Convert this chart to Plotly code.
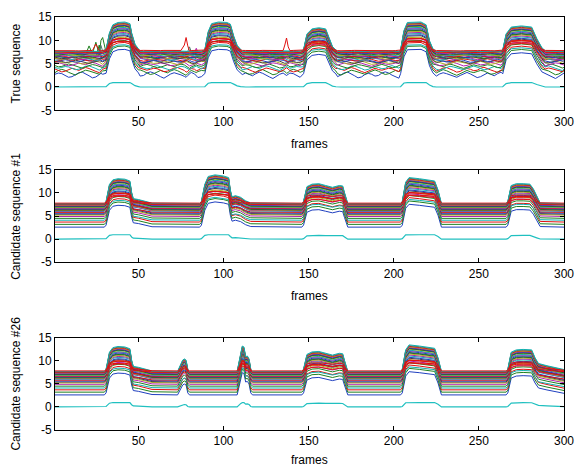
import plotly.graph_objects as go

# ---------------- data ----------------
# per-line baseline and event levels (lowest line first)
base_levels = [2.6, 3.2, 3.7, 4.1, 4.5, 4.9, 5.2, 5.4, 5.6, 5.8, 6.0, 6.1, 6.2, 6.3, 6.4,
               6.5, 6.6, 6.7, 6.8, 6.9, 7.0, 7.1, 7.2, 7.3, 7.4, 7.45, 7.5, 7.6, 7.7, 7.8]
peak_levels = [6.9, 7.6, 8.3, 8.0, 8.8, 9.2, 9.5, 9.8, 10.0, 9.0, 10.3, 10.5, 10.7, 10.9, 11.0,
               11.2, 9.6, 11.4, 11.5, 11.7, 11.8, 11.9, 12.0, 12.1, 12.2, 12.3, 9.3, 12.45, 12.6, 9.8]
line_colors = ["#1f3fbf", "#208020", "#e01010", "#10b0b0", "#208020", "#b020b0", "#b0b020",
               "#404040", "#1f3fbf", "#e01010", "#10b0b0", "#b020b0", "#b0b020", "#404040",
               "#208020", "#1f3fbf", "#e01010", "#b020b0", "#10b0b0", "#b0b020", "#208020",
               "#404040", "#1f3fbf", "#b020b0", "#b0b020", "#e01010", "#e01010", "#4a7a6a",
               "#10b0b0", "#e01010"]
zero_base = 0.0
zero_peak = 0.95
zero_color = "#20c0c0"

# panel 1: true sequence -- event key frames / fractions; other frames are noisy baseline
true_event_frames = [31, 33, 35, 38, 42, 45, 46, 48, 50,
                     89, 91, 93, 97, 102, 104, 106, 108, 110,
                     147, 149, 152, 156, 160, 162, 164, 166,
                     204, 206, 208, 216, 219, 221, 223,
                     264, 266, 269, 275, 281, 284, 287]
true_event_frac = [0.08, 0.8, 1.15, 1.25, 1.27, 1.2, 0.8, 0.3, 0.1,
                   0.06, 0.85, 1.2, 1.27, 1.25, 1.18, 0.65, 0.25, 0.08,
                   0.06, 0.75, 0.97, 1.02, 0.97, 0.6, 0.2, 0.05,
                   0.06, 0.9, 1.25, 1.27, 1.15, 0.45, 0.1,
                   0.05, 0.75, 1.05, 1.1, 1.05, 0.55, 0.15]
true_event_spans = [(31, 50), (89, 110), (147, 166), (204, 223), (264, 287)]
true_jitter = [0.1, 0.3, 0.2, -0.1, -0.4, -0.3, 0.0, 0.35, 0.45, 0.2, -0.15, -0.5, -0.35,
               0.05, 0.25, 0.1, -0.2, -0.1, 0.3, 0.5, 0.3, -0.05, -0.3, -0.55, -0.2, 0.15,
               0.35, 0.2, 0.0, -0.25, -0.4, -0.1, 0.2, 0.4, 0.15, -0.2, -0.45, -0.3, 0.05,
               0.3, 0.1, -0.15, 0.2, 0.45, 0.25, -0.1, -0.35, -0.6, -0.25, 0.1, 0.3, 0.05, -0.1]
# spikes in the true sequence: (line index, frame, value)
true_spikes = [(29, 77, 9.0), (29, 78, 10.6), (29, 79, 8.8), (29, 136, 9.0), (29, 137, 10.5),
               (29, 138, 8.6), (29, 25, 9.2), (20, 21, 8.8), (20, 25, 9.6), (20, 28, 10.0),
               (20, 29, 10.6), (14, 27, 9.0), (27, 80, 8.6), (23, 84, 8.3), (27, 28, 8.9)]

# panel 2: candidate sequence #1
cand1_frames = [1, 30, 31, 33, 35, 38, 42, 45, 46, 47, 50, 54, 58,
                86, 87, 89, 91, 95, 100, 103, 104, 105, 107, 110, 113, 116,
                146, 147, 149, 152, 156, 160, 164, 168, 170, 171, 172, 173,
                204, 205, 207, 209, 215, 220, 224, 226, 227, 228,
                266, 267, 269, 272, 276, 280, 282, 284, 286, 300]
cand1_frac = [0, 0, 0.1, 0.85, 1.05, 1.1, 1.08, 1.0, 0.5, 0.22, 0.18, 0.1, 0.02,
              0, 0.1, 0.85, 1.2, 1.27, 1.22, 1.15, 0.6, 0.3, 0.35, 0.28, 0.12, 0.03,
              0, 0.1, 0.75, 0.86, 0.88, 0.8, 0.72, 0.8, 0.78, 0.5, 0.2, 0,
              0, 0.1, 0.95, 1.15, 1.1, 1.05, 1.0, 0.6, 0.3, 0,
              0, 0.1, 0.8, 0.88, 0.88, 0.86, 0.65, 0.3, 0.03, 0]

# panel 3: candidate sequence #26
cand26_frames = [1, 30, 31, 33, 35, 38, 42, 45, 46, 47, 50, 54, 58,
                 73, 75, 76, 77, 78, 79, 80,
                 108, 110, 111, 112, 113, 114, 115, 116, 117,
                 146, 147, 149, 152, 156, 160, 164, 168, 170, 171, 172, 173,
                 204, 205, 207, 209, 215, 220, 224, 226, 227, 228,
                 266, 267, 269, 272, 276, 281, 283, 285, 290, 295, 300]
cand26_frac = [0, 0, 0.1, 0.85, 1.05, 1.1, 1.08, 1.0, 0.5, 0.22, 0.18, 0.1, 0.02,
               0, 0.3, 0.5, 0.55, 0.5, 0.1, 0,
               0, 0.75, 1.12, 1.08, 0.65, 0.68, 0.55, 0.1, 0,
               0, 0.1, 0.75, 0.86, 0.88, 0.8, 0.72, 0.8, 0.78, 0.5, 0.2, 0,
               0, 0.1, 0.95, 1.17, 1.12, 1.07, 1.02, 0.6, 0.3, 0,
               0, 0.1, 0.85, 0.95, 0.97, 0.95, 0.6, 0.35, 0.25, 0.15, 0.08]

x_ticks = [50, 100, 150, 200, 250, 300]
y_ticks = [-5, 0, 5, 10, 15]
y_ticktext = ["-5", "0", "5", "10", "15"]
panel_titles = ["True sequence", "Candidate sequence #1", "Candidate sequence #26"]
x_title = "frames"

# ---------------- build panel-1 frame list (baseline sampled every 2 frames) ----------------
def in_span(f):
    return any(a <= f <= b for a, b in true_event_spans)

true_frames = sorted(set([f for f in range(1, 301, 2) if not in_span(f)] + [300])
                     | set(true_event_frames) | set(s[1] for s in true_spikes))
true_frac = [true_event_frac[true_event_frames.index(f)] if f in true_event_frames else 0
             for f in true_frames]

# ---------------- figure ----------------
W, H = 584, 466
ml, mr, mt, mb = 55, 10, 14, 36
plot_h = H - mt - mb
px_dom = [(14, 108), (168, 261), (337, 430)]  # pixel top/bottom of each panel
title_dy = [34, 34, 30]


def ydom(top, bottom):
    return [(H - mb - bottom) / plot_h, (H - mb - top) / plot_h]


fig = go.Figure()


def add_panel(k, frames, frac, jitter=None, spikes=None):
    xa = "x" if k == 0 else f"x{k+1}"
    ya = "y" if k == 0 else f"y{k+1}"
    fig.add_trace(go.Scatter(x=frames, y=[zero_base + min(f, 1.0) * (zero_peak - zero_base) for f in frac],
                             mode="lines", line=dict(color=zero_color, width=1.2),
                             xaxis=xa, yaxis=ya, showlegend=False, hoverinfo="skip"))
    for i, (b, p) in enumerate(zip(base_levels, peak_levels)):
        ys = []
        noise_amp = 1.2 * (7.9 - b) / 5.3 + 0.1
        nb = 0
        for fr, f in zip(frames, frac):
            v = b + f * (p - b)
            if jitter is not None and f == 0:
                v += noise_amp * jitter[(nb + 17 * i) % len(jitter)]
                nb += 1
            ys.append(v)
        if spikes:
            for (li, sf, sv) in spikes:
                if li == i and sf in frames:
                    ys[frames.index(sf)] = sv
        fig.add_trace(go.Scatter(x=frames, y=ys, mode="lines",
                                 line=dict(color=line_colors[i], width=1),
                                 xaxis=xa, yaxis=ya, showlegend=False, hoverinfo="skip"))


add_panel(0, true_frames, true_frac, true_jitter, true_spikes)
add_panel(1, cand1_frames, cand1_frac)
add_panel(2, cand26_frames, cand26_frac)

font = dict(family="Liberation Sans, Arial, sans-serif", size=12, color="black")
axis_common = dict(showline=True, linecolor="black", linewidth=1, mirror="ticks",
                   ticks="inside", ticklen=4, tickcolor="black", showgrid=False,
                   zeroline=False, tickfont=font)

layout = dict(width=W, height=H, margin=dict(l=ml, r=mr, t=mt, b=mb),
              paper_bgcolor="white", plot_bgcolor="white", font=font, showlegend=False)
for k in range(3):
    sx = "xaxis" if k == 0 else f"xaxis{k+1}"
    sy = "yaxis" if k == 0 else f"yaxis{k+1}"
    anc_x = "y" if k == 0 else f"y{k+1}"
    anc_y = "x" if k == 0 else f"x{k+1}"
    layout[sx] = dict(axis_common, range=[1, 300], tickvals=x_ticks, anchor=anc_x,
                      domain=[0, 1])
    layout[sy] = dict(axis_common, range=[-5, 15], tickvals=y_ticks, ticktext=y_ticktext,
                      anchor=anc_y, domain=ydom(*px_dom[k]))
fig.update_layout(**layout)

anns = []
for k, (top, bottom) in enumerate(px_dom):
    anns.append(dict(text=x_title, xref="paper", yref="paper",
                     x=0.5, y=(H - mb - (bottom + title_dy[k])) / plot_h,
                     xanchor="center", yanchor="middle", showarrow=False, font=font))
    anns.append(dict(text=panel_titles[k], xref="paper", yref="paper", textangle=-90,
                     x=(15 - ml) / (W - ml - mr), y=(H - mb - (top + bottom) / 2) / plot_h,
                     xanchor="center", yanchor="middle", showarrow=False, font=font))
fig.update_layout(annotations=anns)

fig.write_html("out.html", config={"displayModeBar": False},
               post_script="document.body.style.margin='0px';")
